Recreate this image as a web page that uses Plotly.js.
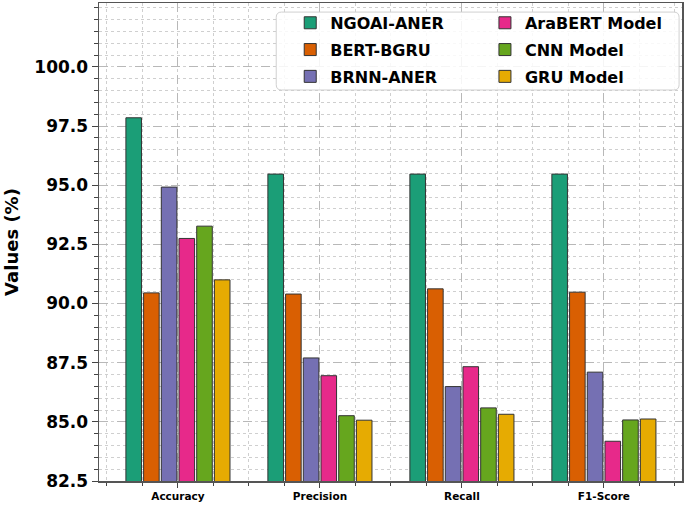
<!DOCTYPE html>
<html>
<head>
<meta charset="utf-8">
<script src="https://cdn.plot.ly/plotly-3.0.1.min.js"></script>
<style>html,body{margin:0;padding:0;background:#fff;}#chart{width:685px;height:505px;}</style>
</head>
<body>
<div id="chart"></div>
<script>
const categories = ["Accuracy", "Precision", "Recall", "F1-Score"];
const seriesNames = ["NGOAI-ANER", "BERT-BGRU", "BRNN-ANER", "AraBERT Model", "CNN Model", "GRU Model"];
const ngoaiAner = [97.85, 95.47, 95.47, 95.47];
const bertBgru = [90.45, 90.40, 90.62, 90.48];
const brnnAner = [94.92, 87.70, 86.49, 87.10];
const arabertModel = [92.75, 86.95, 87.33, 84.18];
const cnnModel = [93.27, 85.26, 85.59, 85.08];
const gruModel = [91.00, 85.07, 85.32, 85.12];
const yTickVals = [82.5, 85.0, 87.5, 90.0, 92.5, 95.0, 97.5, 100.0];

const seriesValues = [ngoaiAner, bertBgru, brnnAner, arabertModel, cnnModel, gruModel];
const colors = ["#1b9e77", "#d95f02", "#7570b3", "#e7298a", "#66a61e", "#e6ab02"];
const legendOf = ["legend", "legend", "legend", "legend2", "legend2", "legend2"];
const xPos = categories.map((c, i) => i);

const font = {family: "DejaVu Sans", weight: "bold", color: "#000"};

const traces = seriesNames.map((name, k) => ({
  type: "bar",
  name: name,
  x: xPos,
  y: seriesValues[k],
  marker: {color: colors[k], line: {color: "#333", width: 1}},
  legend: legendOf[k],
  legendgroup: name,
  hoverinfo: "skip"
}));

// rounded legend frame (paper coords)
const bx0 = 0.304, bx1 = 0.995, by0 = 0.818, by1 = 0.981, rx = 0.009, ry = 0.011;
const framePath = `M ${bx0+rx},${by1} L ${bx1-rx},${by1} Q ${bx1},${by1} ${bx1},${by1-ry} L ${bx1},${by0+ry} Q ${bx1},${by0} ${bx1-rx},${by0} L ${bx0+rx},${by0} Q ${bx0},${by0} ${bx0},${by0+ry} L ${bx0},${by1-ry} Q ${bx0},${by1} ${bx0+rx},${by1} Z`;

const legendCommon = {
  bgcolor: "rgba(0,0,0,0)", borderwidth: 0,
  font: {family: "DejaVu Sans", weight: "bold", size: 16, color: "#000"},
  xanchor: "left", yanchor: "top", y: 0.994, tracegroupgap: 3,
  itemclick: false, itemdoubleclick: false
};

const layout = {
  width: 685, height: 505,
  margin: {l: 99, r: 3, t: 3, b: 24},
  paper_bgcolor: "#fff", plot_bgcolor: "#fff",
  barmode: "group", bargap: 0.252, bargroupgap: 0.12,
  font: font,
  showlegend: true,
  legend: Object.assign({}, legendCommon, {x: 0.328}),
  legend2: Object.assign({}, legendCommon, {x: 0.662}),
  xaxis: {
    type: "linear", range: [-0.556, 3.55],
    tickmode: "array", tickvals: xPos, ticktext: categories,
    tickfont: {family: "DejaVu Sans", weight: "bold", size: 10.5, color: "#000"},
    ticks: "outside", ticklen: 5, tickwidth: 1, tickcolor: "#444",
    showgrid: true, gridcolor: "#b8b8b8", griddash: "dash", gridwidth: 1,
    minor: {tickmode: "linear", tick0: 0, dtick: 0.25, ticks: "outside", ticklen: 3, tickcolor: "#444",
            showgrid: true, gridcolor: "#cfcfcf", griddash: "dot", gridwidth: 1},
    showline: true, linecolor: "#555", linewidth: 1.5, mirror: true,
    zeroline: false, fixedrange: true
  },
  yaxis: {
    range: [82.5, 102.7],
    tickmode: "array", tickvals: yTickVals, tickformat: ".1f",
    tickfont: {family: "DejaVu Sans", weight: "bold", size: 17, color: "#000"},
    ticks: "outside", ticklen: 6, tickwidth: 1, tickcolor: "#444",
    showgrid: true, gridcolor: "#b8b8b8", griddash: "dash", gridwidth: 1,
    minor: {tickmode: "linear", tick0: 0, dtick: 0.5, ticks: "outside", ticklen: 4, tickcolor: "#444",
            showgrid: true, gridcolor: "#cfcfcf", griddash: "dot", gridwidth: 1},
    showline: true, linecolor: "#555", linewidth: 1.5, mirror: true,
    zeroline: false, fixedrange: true,
    title: {text: "Values (%)", font: {family: "DejaVu Sans", weight: "bold", size: 18, color: "#000"}, standoff: 11}
  },
  shapes: [{
    type: "path", xref: "paper", yref: "paper", path: framePath,
    fillcolor: "rgba(255,255,255,0.85)", line: {color: "#d0d0d0", width: 1}, layer: "above"
  }]
};

Plotly.newPlot("chart", traces, layout, {displayModeBar: false, staticPlot: true});
</script>
</body>
</html>
